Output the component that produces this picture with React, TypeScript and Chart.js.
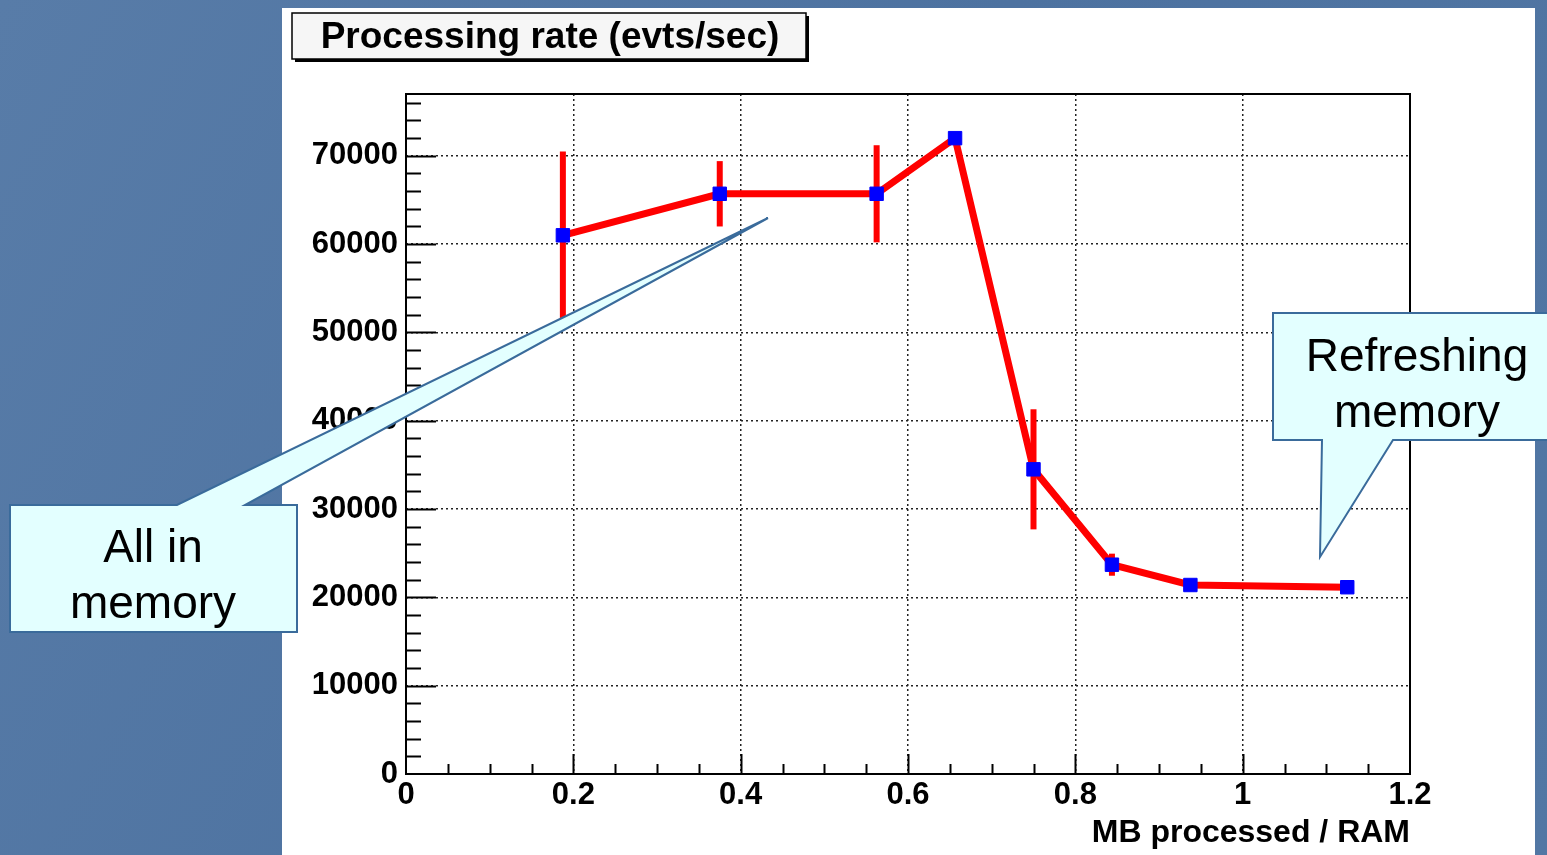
import React, { useEffect, useRef } from 'react';
import { Chart, registerables } from 'chart.js';

Chart.register(...registerables);

// ---- data ----
const xValues = [0.1875, 0.375, 0.5625, 0.65625, 0.75, 0.84375, 0.9375, 1.125];
const rates = [61000, 65700, 65700, 72000, 34500, 23700, 21400, 21150];
const rateErrors = [9500, 3700, 5500, 0, 6800, 1250, 0, 0];
const yMajorTicks = [0, 10000, 20000, 30000, 40000, 50000, 60000, 70000];
const xMajorTicks = [0, 0.2, 0.4, 0.6, 0.8, 1, 1.2];
const yMinorPerMajor = 5;
const xMinorPerMajor = 4;
const chartTitle = 'Processing rate (evts/sec)';
const xAxisTitle = 'MB processed / RAM';
const leftCalloutLines = ['All in', 'memory'];
const rightCalloutLines = ['Refreshing', 'memory'];

const W = 1547;
const H = 855;
const AXIS_FONT = 'Liberation Sans';
const Y_MAX = 77000;
const X_MAX = 1.2;

const isMultiple = (v: number, step: number) => Math.abs(Math.round(v / step) * step - v) < 1e-6;

function buildTicks(majors: number[], perMajor: number, max: number) {
  const step = (majors[1] - majors[0]) / perMajor;
  const out: { value: number; major: boolean }[] = [];
  for (let i = 0; ; i++) {
    const v = Math.round(i * step * 1e6) / 1e6;
    if (v > max + 1e-9) break;
    out.push({ value: v, major: i % perMajor === 0 });
  }
  return out;
}

const decorPlugin = {
  id: 'decor',
  beforeDraw(chart: any) {
    const ctx = chart.ctx as CanvasRenderingContext2D;
    ctx.save();
    const g = ctx.createLinearGradient(0, 0, W, H);
    g.addColorStop(0, '#587ca8');
    g.addColorStop(0.5, '#4d72a0');
    g.addColorStop(1, '#5277a4');
    ctx.fillStyle = g;
    ctx.fillRect(0, 0, W, H);
    // white panel
    ctx.fillStyle = '#ffffff';
    ctx.fillRect(282, 8, 1253, H - 8);
    // title box with shadow
    ctx.fillStyle = '#000000';
    ctx.fillRect(295, 16, 514, 46);
    ctx.fillStyle = '#f6f6f6';
    ctx.fillRect(292, 13, 514, 46);
    ctx.strokeStyle = '#000000';
    ctx.lineWidth = 1.5;
    ctx.strokeRect(292, 13, 514, 46);
    ctx.fillStyle = '#000000';
    ctx.font = `bold 37px "${AXIS_FONT}"`;
    ctx.textAlign = 'center';
    ctx.textBaseline = 'middle';
    ctx.fillText(chartTitle, 550, 38);
    ctx.restore();
  },
  beforeDatasetsDraw(chart: any) {
    const ctx = chart.ctx as CanvasRenderingContext2D;
    const xs = chart.scales.x;
    const ys = chart.scales.y;
    const area = chart.chartArea;
    ctx.save();
    ctx.strokeStyle = '#000000';
    ctx.lineWidth = 2;
    // y ticks (inward)
    ys.ticks.forEach((t: any) => {
      const v = t.value;
      if (v <= 0 || v >= Y_MAX) return;
      const py = Math.round(ys.getPixelForValue(v)) + 0.5;
      const len = isMultiple(v, 10000) ? 30 : 15;
      ctx.beginPath();
      ctx.moveTo(area.left, py);
      ctx.lineTo(area.left + len, py);
      ctx.stroke();
    });
    // x ticks (inward)
    xs.ticks.forEach((t: any) => {
      const v = t.value;
      if (v <= 0 || v >= X_MAX - 1e-9) return;
      const px = Math.round(xs.getPixelForValue(v)) + 0.5;
      const len = isMultiple(v, 0.2) ? 20 : 10;
      ctx.beginPath();
      ctx.moveTo(px, area.bottom);
      ctx.lineTo(px, area.bottom - len);
      ctx.stroke();
    });
    // frame
    ctx.lineWidth = 2;
    ctx.strokeRect(area.left, area.top, area.right - area.left, area.bottom - area.top);
    // error bars
    ctx.strokeStyle = '#ff0000';
    ctx.lineWidth = 6;
    ctx.lineCap = 'butt';
    xValues.forEach((xv, i) => {
      const e = rateErrors[i];
      if (!e) return;
      const px = xs.getPixelForValue(xv);
      ctx.beginPath();
      ctx.moveTo(px, ys.getPixelForValue(rates[i] + e));
      ctx.lineTo(px, ys.getPixelForValue(rates[i] - e));
      ctx.stroke();
    });
    ctx.restore();
  },
  afterDraw(chart: any) {
    const ctx = chart.ctx as CanvasRenderingContext2D;
    ctx.save();
    const fill = '#e3ffff';
    const stroke = '#3a6b9b';
    ctx.lineWidth = 2;
    ctx.lineJoin = 'miter';
    // left callout
    ctx.beginPath();
    ctx.moveTo(10, 505);
    ctx.lineTo(177, 505);
    ctx.lineTo(768, 218);
    ctx.lineTo(245, 505);
    ctx.lineTo(297, 505);
    ctx.lineTo(297, 632);
    ctx.lineTo(10, 632);
    ctx.closePath();
    ctx.fillStyle = fill;
    ctx.fill();
    ctx.strokeStyle = stroke;
    ctx.stroke();
    // right callout
    ctx.beginPath();
    ctx.moveTo(1273, 313);
    ctx.lineTo(1570, 313);
    ctx.lineTo(1570, 440);
    ctx.lineTo(1393, 440);
    ctx.lineTo(1320, 557);
    ctx.lineTo(1322, 440);
    ctx.lineTo(1273, 440);
    ctx.closePath();
    ctx.fillStyle = fill;
    ctx.fill();
    ctx.strokeStyle = stroke;
    ctx.stroke();
    // texts
    ctx.fillStyle = '#000000';
    ctx.font = '46px "Liberation Sans"';
    ctx.textAlign = 'center';
    ctx.textBaseline = 'alphabetic';
    ctx.fillText(leftCalloutLines[0], 153, 562);
    ctx.fillText(leftCalloutLines[1], 153, 618);
    ctx.fillText(rightCalloutLines[0], 1417, 371);
    ctx.fillText(rightCalloutLines[1], 1417, 427);
    ctx.restore();
  },
};

export default function App() {
  const ref = useRef<HTMLCanvasElement | null>(null);
  useEffect(() => {
    if (!ref.current) return;
    const gridColor = '#222222';
    const chart = new Chart(ref.current, {
      type: 'scatter',
      data: {
        datasets: [
          {
            data: xValues.map((x, i) => ({ x, y: rates[i] })),
            showLine: true,
            borderColor: '#ff0000',
            borderWidth: 7,
            tension: 0,
            pointStyle: 'rect',
            pointRadius: 9.5,
            pointBackgroundColor: '#0000ff',
            pointBorderColor: '#0000ff',
            pointBorderWidth: 1,
          },
        ],
      },
      options: {
        responsive: false,
        animation: false,
        devicePixelRatio: 1,
        events: [],
        layout: { padding: { left: 0, top: 94, right: 137, bottom: 0 } },
        plugins: { legend: { display: false }, tooltip: { enabled: false } },
        scales: {
          x: {
            type: 'linear',
            min: 0,
            max: X_MAX,
            afterBuildTicks: (s: any) => {
              s.ticks = buildTicks(xMajorTicks, xMinorPerMajor, X_MAX).map((t) => ({ value: t.value }));
            },
            afterFit: (s: any) => {
              s.height = 81;
            },
            ticks: {
              autoSkip: false,
              maxRotation: 0,
              minRotation: 0,
              padding: 3,
              color: '#000000',
              font: { family: AXIS_FONT, size: 31, weight: 'bold' },
              callback: (v: any) => {
                const n = Number(v);
                return xMajorTicks.some((m) => Math.abs(m - n) < 1e-6) ? String(Math.round(n * 10) / 10) : '';
              },
            },
            grid: {
              drawTicks: false,
              lineWidth: 1.5,
              color: (c: any) => {
                const v = c.tick ? c.tick.value : 0;
                return isMultiple(v, 0.2) && v > 0 && v < X_MAX - 0.01 ? gridColor : 'rgba(0,0,0,0)';
              },
            },
            border: { display: false, dash: [2, 3] },
            title: {
              display: true,
              text: xAxisTitle,
              align: 'end',
              color: '#000000',
              font: { family: AXIS_FONT, size: 32, weight: 'bold' },
              padding: { top: 0, bottom: 3 },
            },
          },
          y: {
            type: 'linear',
            min: 0,
            max: Y_MAX,
            afterBuildTicks: (s: any) => {
              s.ticks = buildTicks(yMajorTicks, yMinorPerMajor, Y_MAX).map((t) => ({ value: t.value }));
            },
            afterFit: (s: any) => {
              s.width = 406;
            },
            ticks: {
              autoSkip: false,
              padding: 8,
              color: '#000000',
              font: { family: AXIS_FONT, size: 31, weight: 'bold' },
              callback: (v: any) => {
                const n = Number(v);
                return yMajorTicks.includes(n) ? String(n) : '';
              },
            },
            grid: {
              drawTicks: false,
              lineWidth: 1.5,
              color: (c: any) => {
                const v = c.tick ? c.tick.value : 0;
                return isMultiple(v, 10000) && v > 0 ? gridColor : 'rgba(0,0,0,0)';
              },
            },
            border: { display: false, dash: [2, 3] },
          },
        },
      },
      plugins: [decorPlugin],
    } as any);
    return () => chart.destroy();
  }, []);
  return (
    <canvas
      ref={ref}
      width={W}
      height={H}
      style={{ position: 'fixed', left: 0, top: 0, width: W, height: H, display: 'block' }}
    />
  );
}
